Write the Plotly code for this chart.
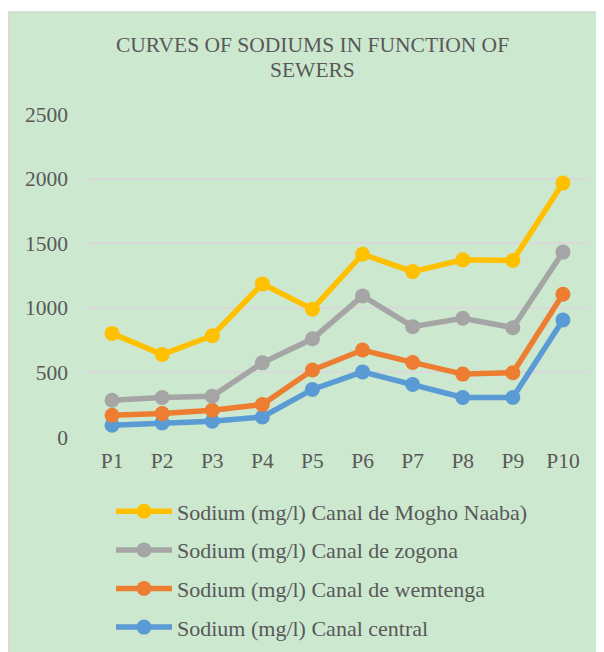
import plotly.graph_objects as go

categories = ["P1", "P2", "P3", "P4", "P5", "P6", "P7", "P8", "P9", "P10"]
mogho_naaba = [802, 639, 784, 1185, 989, 1415, 1280, 1371, 1366, 1966]
zogona = [285, 306, 316, 574, 760, 1092, 854, 919, 846, 1431]
wemtenga = [168, 181, 207, 251, 518, 673, 577, 487, 497, 1105]
central = [91, 109, 122, 155, 368, 504, 407, 306, 306, 906]
series_names = [
    "Sodium (mg/l) Canal de Mogho Naaba)",
    "Sodium (mg/l) Canal de zogona",
    "Sodium (mg/l) Canal de wemtenga",
    "Sodium (mg/l) Canal central",
]
series_values = [mogho_naaba, zogona, wemtenga, central]
series_colors = ["#FFC000", "#A5A5A5", "#ED7D31", "#5B9BD5"]
title_lines = ["CURVES OF SODIUMS IN FUNCTION OF", "SEWERS"]
y_ticks = [0, 500, 1000, 1500, 2000, 2500]

W, H = 596, 644
L, R, T, B = 79, 16, 106, 215
PW, PH = W - L - R, H - T - B
GREEN = "#CCE8CF"
TEXT = "#595959"
FONT = "Liberation Serif, Times New Roman, serif"
FS = 21.5


def px_x(px):
    return (px - L) / PW


def px_y(py):
    return (T + PH - py) / PH


fig = go.Figure()
# draw order: blue at bottom, yellow on top
items = list(zip(series_names, series_values, series_colors))
for rank, (name, vals, col) in reversed(list(enumerate(items))):
    fig.add_trace(go.Scatter(
        x=categories, y=vals, name=name, mode="lines+markers",
        line=dict(color=col, width=5.5),
        marker=dict(color=col, size=15),
        legendgroup=name, legendrank=rank + 1,
    ))

annotations = [
    dict(text=title_lines[0], xref="paper", yref="paper", x=px_x(304), y=px_y(37),
         xanchor="center", yanchor="middle", showarrow=False,
         font=dict(family=FONT, size=FS, color=TEXT)),
    dict(text=title_lines[1], xref="paper", yref="paper", x=px_x(304), y=px_y(62),
         xanchor="center", yanchor="middle", showarrow=False,
         font=dict(family=FONT, size=FS, color=TEXT)),
]

fig.update_layout(
    width=W, height=H,
    margin=dict(l=L, r=R, t=T, b=B, pad=0, autoexpand=False),
    paper_bgcolor=GREEN, plot_bgcolor=GREEN,
    font=dict(family=FONT, color=TEXT, size=FS),
    annotations=annotations,
    xaxis=dict(type="category", range=[-0.5, 9.5], showgrid=False, zeroline=False,
               showline=False, ticks="", tickfont=dict(size=FS, color=TEXT),
               ticklabelstandoff=8, fixedrange=True),
    yaxis=dict(range=[0, 2500], tickvals=y_ticks, showgrid=True, gridcolor="#D9D9D9",
               gridwidth=2, zeroline=False, showline=False, ticks="",
               tickfont=dict(size=FS, color=TEXT), ticklabelstandoff=18, fixedrange=True),
    legend=dict(x=103 / W, y=1 - 482.5 / H, xref="container", yref="container",
                xanchor="left", yanchor="top",
                traceorder="grouped", tracegroupgap=7, itemwidth=56,
                bgcolor="rgba(0,0,0,0)", font=dict(family=FONT, size=22, color=TEXT)),
    showlegend=True,
    shapes=[
        dict(type="rect", xref="paper", yref="paper", x0=px_x(-2), x1=px_x(W + 2),
             y0=px_y(3.5), y1=px_y(-2), fillcolor="white", line=dict(width=0)),
        dict(type="line", xref="paper", yref="paper", x0=px_x(0), x1=px_x(W + 2),
             y0=px_y(4), y1=px_y(4), line=dict(color="#D9D9D9", width=1.5)),
        dict(type="line", xref="paper", yref="paper", x0=px_x(0.75), x1=px_x(0.75),
             y0=px_y(4), y1=px_y(H + 2), line=dict(color="#D9D9D9", width=1.5)),
    ],
)

fig.write_html("out.html")
